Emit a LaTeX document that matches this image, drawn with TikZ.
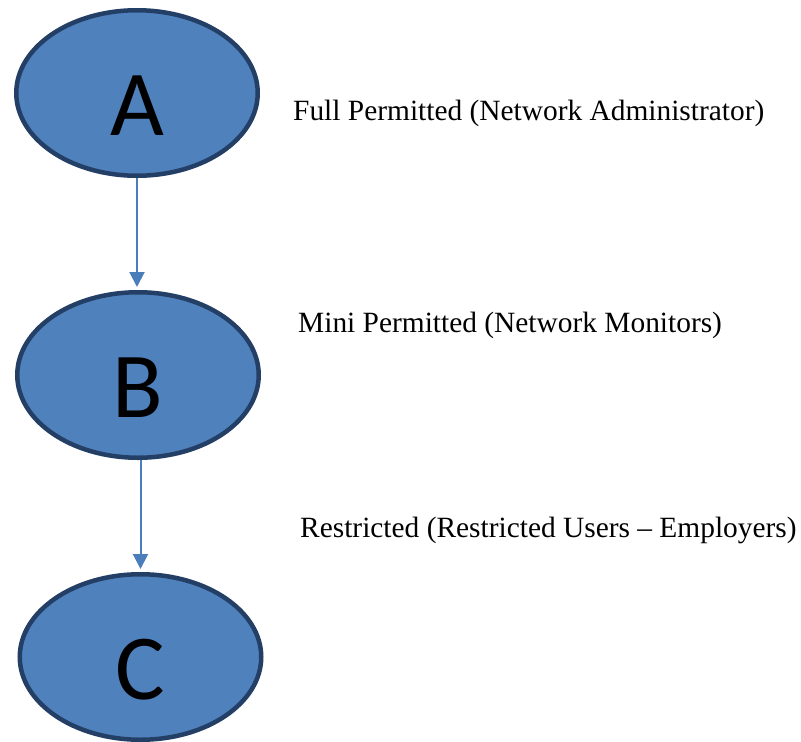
\documentclass[tikz,border=0pt]{standalone}
\usepackage{fontspec}
\setmainfont{Liberation Serif}
\newfontfamily\letterfont{Carlito}
\usetikzlibrary{shapes.geometric,arrows.meta}
\definecolor{ellfill}{HTML}{4F81BD}
\definecolor{elldraw}{HTML}{243F66}
\definecolor{arrowcol}{HTML}{4A7EBB}
\tikzset{
  levelnode/.style={ellipse, draw=elldraw, fill=ellfill, line width=4.5pt, inner sep=0pt,
    minimum width=241.5pt, minimum height=165.5pt, font=\letterfont\fontsize{93}{93}\selectfont,
    text height=84pt, text depth=0pt},
  linkarrow/.style={draw=arrowcol, line width=2pt, -{Triangle[length=15pt,width=15pt]}, shorten >=3pt},
  desc/.style={anchor=base west, inner sep=0pt, font=\fontsize{29.4}{29.4}\selectfont}
}
\begin{document}
\begin{tikzpicture}[x=1pt,y=-1pt]
\useasboundingbox (0,0) rectangle (801,742);
\node[levelnode] (A) at (137,93) {A};
\node[levelnode] (B) at (138,375) {B};
\node[levelnode] (C) at (140.5,657) {C};
\draw[linkarrow] (A.south) -- (A.south |- B.north);
\draw[linkarrow] (B.south -| C.north) -- (C.north);
\node[desc] (ta) at (293,120) {Full Permitted (Network Administrator)};
\node[desc] (tb) at (298,332) {Mini Permitted (Network Monitors)};
\node[desc] (tc) at (300,537) {Restricted (Restricted Users -- Employers)};
\end{tikzpicture}
\end{document}
